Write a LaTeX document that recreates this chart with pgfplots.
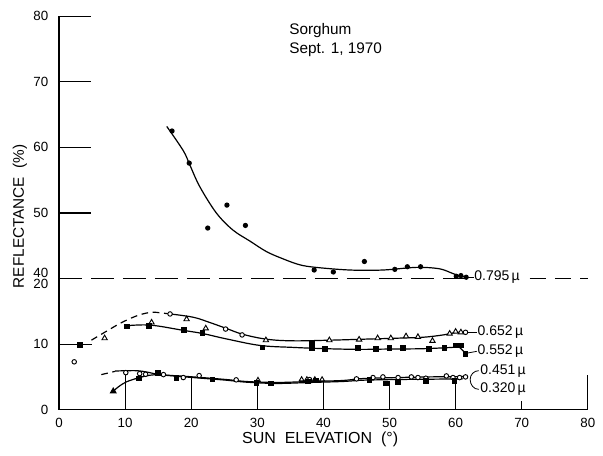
\documentclass[border=0pt]{standalone}
\usepackage{fontspec}
\setmainfont{Liberation Sans}
\usepackage{pgfplots}
\pgfplotsset{compat=1.18}

\begin{document}
\begin{tikzpicture}
\begin{axis}[
  scale only axis,
  width=396.75pt, height=295.2pt,
  xmin=0, xmax=80, ymin=0, ymax=60,
  axis lines*=left,
  axis line style={line width=1.1pt},
  clip=false,
  major tick length=0pt,
  xtick={0,10,...,80},
  ytick={0,10,20,30,40,50,60},
  yticklabels={0,10,{40\\[-3.5pt]20},50,60,70,80},
  yticklabel style={align=right, xshift=-4.5pt, font=\fontsize{10}{12}\selectfont},
  xticklabel style={yshift=-2.5pt, font=\fontsize{10}{12}\selectfont},
  /pgf/number format/assume math mode=true,
  every axis plot/.append style={line width=0.9pt, black},
]
% break of the reflectance scale: 40 above, 20 below
\addplot[no marks, dash pattern=on 17pt off 7pt, line width=0.8pt] coordinates {(0,20) (62.6,20)};
\addplot[no marks, dash pattern=on 12pt off 7pt, line width=0.8pt] coordinates {(71.2,20) (80,20)};

% long tick strokes
\draw[line width=1.0pt] (axis cs:0,30) -- (axis cs:4.8,30);
\draw[line width=1.0pt] (axis cs:0,40) -- (axis cs:4.8,40);
\draw[line width=1.0pt] (axis cs:0,50) -- (axis cs:4.8,50);
\draw[line width=1.0pt] (axis cs:0,60) -- (axis cs:4.8,60);
\draw[line width=0.8pt] (axis cs:10,0) -- (axis cs:10,5.7);
\draw[line width=0.8pt] (axis cs:20,0) -- (axis cs:20,4.9);
\draw[line width=0.8pt] (axis cs:30,0) -- (axis cs:30,4.3);
\draw[line width=0.8pt] (axis cs:40,0) -- (axis cs:40,4.5);
\draw[line width=0.8pt] (axis cs:50,0) -- (axis cs:50,4.4);
\draw[line width=0.8pt] (axis cs:60,0) -- (axis cs:60,4.5);
\draw[line width=0.8pt] (axis cs:70,0) -- (axis cs:70,1.3);
\draw[line width=0.8pt] (axis cs:80,0) -- (axis cs:80,5.3);

% ---- 0.795 micron (upper scale, plotted as value - 20)
\addplot[no marks, smooth, tension=0.55] coordinates {
 (16.3,43.2) (18.8,39.5) (19.8,37.3) (21.3,34.0) (23.8,30.0) (26.3,27.4)
 (28.9,25.7) (31.4,24.1) (33.9,23.0) (36.4,22.1) (38.9,21.7) (44.0,21.3)
 (49.0,21.3) (54.0,21.7) (57.5,21.5) (59.5,20.8) (60.6,20.4) (61.8,20.2)};
\addplot[only marks, mark=*, mark size=1.5pt] coordinates {
 (17.1,42.5) (19.7,37.6) (22.5,27.7) (25.4,31.2) (28.2,28.1) (38.6,21.3)
 (41.5,21.0) (46.2,22.6) (50.8,21.4) (52.7,21.8) (54.7,21.8) (60.1,20.35)
 (60.8,20.45) (61.6,20.2)};

% ---- 0.652 micron
\addplot[no marks, smooth, tension=0.6, dash pattern=on 5pt off 3.5pt] coordinates {
 (4.9,10.6) (6.9,11.8) (9.5,13.3) (12.0,14.4) (14.0,14.85) (15.5,14.75) (16.8,14.6)};
\addplot[no marks, smooth, tension=0.6] coordinates {
 (16.8,14.6) (20.3,14.1) (22.8,13.3) (25.3,12.4) (27.8,11.5) (31.4,10.75)
 (35.4,10.5) (41,10.6) (46,10.75) (51,10.9) (55.1,11.05) (58.1,11.4)
 (60.2,11.8) (61.7,11.8)};
\addplot[only marks, mark=triangle*, mark size=2.3pt, mark options={fill=white, line width=0.7pt}] coordinates {
 (6.9,10.9) (14.0,13.3) (19.3,13.8) (22.2,12.4) (31.3,10.6) (40.9,10.6)
 (45.4,10.7) (48.2,10.9) (50.2,10.9) (52.5,11.2) (54.3,11.1) (56.5,10.5)
 (59.1,11.6) (60.0,11.9) (60.8,11.8)};
\addplot[only marks, mark=*, mark size=1.7pt, mark options={fill=white, line width=0.7pt}] coordinates {
 (16.8,14.6) (25.2,12.3) (27.7,11.4) (61.5,11.8)};

% ---- 0.552 micron
\addplot[no marks] coordinates {(0,10.0) (5.0,10.0)};
\addplot[no marks, smooth, tension=0.6] coordinates {
 (10.2,12.8) (13.8,12.9) (18.8,12.1) (21.8,11.6) (25.3,10.8) (30.4,9.8)
 (35.4,9.5) (40.4,9.3) (45.5,9.2) (50,9.25) (55,9.3) (59.5,9.5) (60.5,9.6)};
\addplot[no marks] coordinates {(60.5,9.6) (61.5,8.6)};
\addplot[only marks, mark=square*, mark size=1.7pt] coordinates {
 (3.2,9.9) (10.3,12.7) (13.6,12.8) (18.9,12.1) (21.7,11.7) (30.8,9.5)
 (38.3,10.0) (38.3,9.4) (40.2,9.3) (45.2,9.4) (48.0,9.3) (50.0,9.4)
 (52.0,9.4) (56.0,9.3) (58.3,9.4) (60.1,9.8) (60.8,9.8) (61.5,8.5)};

% ---- 0.451 micron
\addplot[no marks, dash pattern=on 5pt off 3.5pt] coordinates {(6.4,5.35) (8.5,5.85)};
\addplot[no marks, smooth, tension=0.5] coordinates {
 (8.5,5.9) (11.7,5.95) (13.5,5.7) (15.3,5.35) (20.3,5.0) (25.3,4.6)
 (28.3,4.3) (32.9,4.15) (37.9,4.3) (42.9,4.45) (46,4.75) (51,4.9)
 (56,5.0) (61.1,5.05)};
\addplot[only marks, mark=*, mark size=1.7pt, mark options={fill=white, line width=0.7pt}] coordinates {
 (2.3,7.3) (10.1,5.65) (12.2,5.5) (13.1,5.4) (15.8,5.35) (18.8,4.9)
 (21.2,5.2) (26.8,4.55) (37.9,4.6) (45.0,4.7) (47.5,4.9)
 (49.0,5.0) (51.3,4.9) (53.3,5.0) (54.3,4.9) (55.5,4.8) (58.6,5.15)
 (59.6,4.9) (60.6,4.9) (61.5,5.0)};
\addplot[only marks, mark=triangle*, mark size=2.1pt, mark options={fill=white, line width=0.7pt}] coordinates {
 (30.1,4.5) (36.7,4.6) (37.5,4.6) (38.7,4.6) (39.8,4.6)};

% ---- 0.320 micron
\addplot[no marks, smooth, tension=0.5] coordinates {
 (8.2,2.8) (9.0,3.5) (10.2,4.25) (12.0,4.85) (13.7,5.25) (15.3,5.3)
 (20.3,4.9) (25.3,4.5) (28.3,4.2) (32.9,4.0) (37.9,4.15) (42.9,4.3)
 (46,4.5) (51,4.6) (56,4.65) (61.1,4.7)};
\addplot[only marks, mark=square*, mark size=1.6pt] coordinates {
 (12.1,4.75) (15.0,5.6) (17.8,4.85) (23.2,4.6) (29.9,4.1) (32.1,4.0)
 (37.7,4.3) (38.9,4.45) (47.0,4.5) (49.5,4.0) (51.3,4.25) (55.5,4.4) (59.8,4.35)};
\addplot[only marks, mark=triangle*, mark size=2.3pt] coordinates {(8.2,2.8)};

% wavelength labels
\begin{scope}[font=\fontsize{10.5}{12}\selectfont]
\draw[line width=0.6pt] (axis cs:61.9,20.2) -- (axis cs:62.8,20.2);
\node[anchor=west, inner sep=0pt] at (axis cs:62.8,20.2) {0.795\,µ};
\draw[line width=0.6pt] (axis cs:61.9,11.8) -- (axis cs:63.2,11.8);
\node[anchor=west, inner sep=0pt] at (axis cs:63.3,11.8) {0.652\,µ};
\draw[line width=0.6pt] (axis cs:61.6,8.6) -- (axis cs:63.2,8.9);
\node[anchor=west, inner sep=0pt] at (axis cs:63.3,8.9) {0.552\,µ};
\draw[line width=0.6pt] (axis cs:63.5,5.95) to[out=180,in=90] (axis cs:62.2,4.6) to[out=-90,in=180] (axis cs:63.5,3.1);
\node[anchor=west, inner sep=0pt] at (axis cs:63.7,5.95) {0.451\,µ};
\node[anchor=west, inner sep=0pt] at (axis cs:63.7,3.1) {0.320\,µ};
\end{scope}

% titles
\node[anchor=base west, align=left, inner sep=0pt, font=\fontsize{11.5}{14.5}\selectfont]
  at (axis cs:34.8,54.3) {Sorghum\\Sept. 1, 1970};
\node[font=\fontsize{12}{14}\selectfont] at (axis cs:39.5,-4.6) {SUN\ \ ELEVATION\ \ (°)};
\node[rotate=90, font=\fontsize{11.5}{14}\selectfont] at (axis cs:-5.9,29.5) {REFLECTANCE\ \ (\%)};

\coordinate (bbsw) at (axis cs:-8.93,-7.03);
\coordinate (bbne) at (axis cs:82.3,62.48);
\end{axis}
\pgfresetboundingbox
\path[use as bounding box] (bbsw) rectangle (bbne);
\end{tikzpicture}
\end{document}
